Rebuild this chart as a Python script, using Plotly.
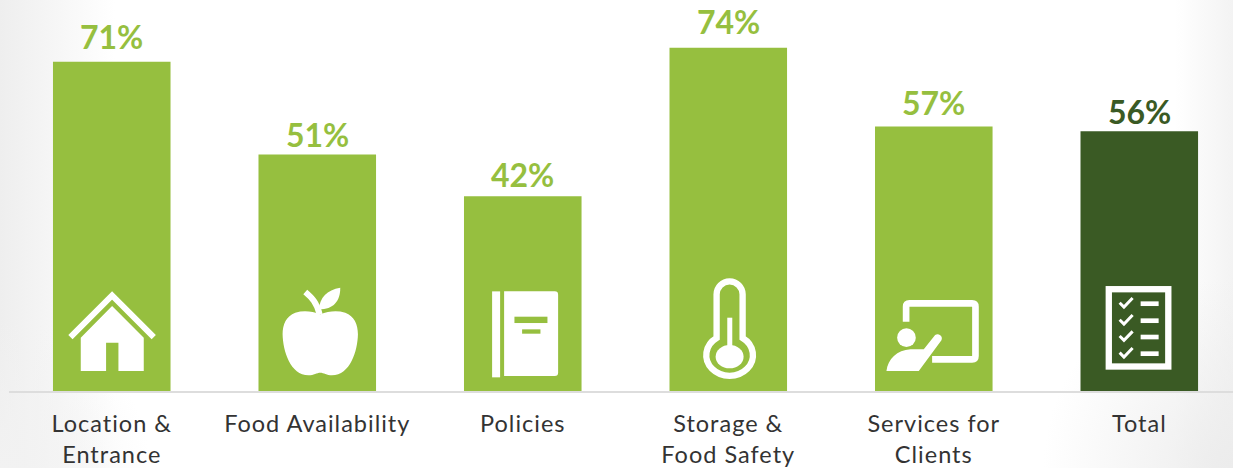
import base64
import plotly.graph_objects as go

categories = ["Location &<br>Entrance", "Food Availability", "Policies", "Storage &<br>Food Safety", "Services for<br>Clients", "Total"]
values = [71, 51, 42, 74, 57, 56]
bar_colors = ["#96BF3F"] * 5 + ["#3A5A24"]
label_colors = ["#96BF3F"] * 5 + ["#3A5A24"]
label_gaps = [25, 20, 22, 26, 24, 20]
FONT = "Lato"

G = "#96BF3F"
def svg_uri(body, w=352, h=365):
    s = f'<svg xmlns="http://www.w3.org/2000/svg" width="{w}" height="{h}" viewBox="0 0 {w} {h}">{body}</svg>'
    return "data:image/svg+xml;base64," + base64.b64encode(s.encode()).decode()

house = '''<g transform="translate(-39,0)"><polyline points="91,203 216,78 341,203" fill="none" stroke="white" stroke-width="18"/>
<polygon fill="white" points="122,205 216,110 311,205 311,305 235,305 235,220 198,220 198,305 122,305"/></g>'''
apple = '''<g transform="translate(-655,0)" fill="white"><path d="M840 135 C815 125 790 122 765 130 C738 140 727 165 727 195 C728 245 750 318 805 318 C820 318 830 310 840 310 C850 310 860 318 875 318 C930 318 952 245 953 195 C953 165 942 140 915 130 C890 122 865 125 840 135 Z"/>
<path d="M795 68 C815 85 830 100 838 135" fill="none" stroke="white" stroke-width="18"/>
<path d="M836 120 C838 85 860 62 900 55 C900 95 880 120 836 120 Z"/></g>'''
book = f'''<g transform="translate(-12,0)"><rect x="96" y="66" width="24" height="258" fill="white"/>
<path d="M132 66 H284 Q294 66 294 76 V310 Q294 320 284 320 H132 Z" fill="white"/>
<rect x="163" y="142" width="99" height="19" fill="{G}"/><rect x="186" y="180" width="55" height="13" fill="{G}"/></g>'''
thermo = '''<g transform="translate(-628,0)"><path d="M769 206 V75 A39 39 0 0 1 847 75 V206 A70 62 0 1 1 769 206 Z" fill="none" stroke="white" stroke-width="19"/>
<ellipse cx="808" cy="262" rx="42" ry="35" fill="white"/><rect x="801" y="145" width="15" height="100" fill="white"/></g>'''
board = '''<g transform="translate(-44,0)"><path d="M137 157 V112 Q137 102 147 102 H335 Q345 102 345 112 V260 Q345 270 335 270 H215" fill="none" stroke="white" stroke-width="20"/>
<circle cx="138" cy="205" r="28" fill="white"/>
<path d="M78 305 C82 270 110 242 150 240 L190 240 L224 197 A13 13 0 0 1 243 213 L175 305 Z" fill="white"/></g>'''
checks = "".join(f'<polyline points="{777},{y} {790},{y+13} {816},{y-14}" fill="none" stroke="white" stroke-width="9"/><rect x="840" y="{y-4}" width="54" height="14" fill="white"/>' for y in (100, 151, 200, 250))
lst = f'<g transform="translate(-660,0)"><rect x="744.5" y="59.5" width="178.5" height="232" fill="none" stroke="white" stroke-width="19"/>{checks}</g>'
icons = [house, apple, book, thermo, board, lst]

bg = '''<defs><linearGradient id="a" gradientUnits="userSpaceOnUse" x1="0" y1="0" x2="115" y2="0"><stop offset="0" stop-color="#eeeeee"/><stop offset="1" stop-color="#eeeeee" stop-opacity="0"/></linearGradient>
<linearGradient id="r" gradientUnits="userSpaceOnUse" x1="1233" y1="0" x2="1175" y2="0"><stop offset="0" stop-color="#f3f3f3"/><stop offset="1" stop-color="#f3f3f3" stop-opacity="0"/></linearGradient>
<radialGradient id="b" gradientUnits="userSpaceOnUse" cx="1233" cy="468" r="190"><stop offset="0" stop-color="#ececec"/><stop offset="1" stop-color="#ececec" stop-opacity="0"/></radialGradient>
<radialGradient id="c" gradientUnits="userSpaceOnUse" cx="0" cy="468" r="150"><stop offset="0" stop-color="#f2f2f2"/><stop offset="1" stop-color="#f2f2f2" stop-opacity="0"/></radialGradient></defs>
<rect width="1233" height="468" fill="white"/><rect width="1233" height="468" fill="url(#a)"/><rect width="1233" height="468" fill="url(#r)"/><rect width="1233" height="468" fill="url(#c)"/><rect width="1233" height="468" fill="url(#b)"/>'''

fig = go.Figure(go.Bar(
    x=categories, y=values, width=0.572,
    marker=dict(color=bar_colors, line_width=0),
    cliponaxis=False, hoverinfo="skip",
))
for c, v, col, gap in zip(categories, values, label_colors, label_gaps):
    fig.add_annotation(x=c, y=v, text=f"<b>{v}%</b>", showarrow=False, yanchor="middle", yshift=gap,
                       font=dict(family=FONT, size=32, color=col))

images = [dict(source=svg_uri(bg, 1233, 468), xref="paper", yref="paper", x=-9 / 1224, y=-77 / 391, sizex=1233 / 1224, sizey=468 / 391,
               xanchor="left", yanchor="bottom", sizing="stretch", layer="below")]
ICON_H = 365 / 3 / 4.64
for i, ic in enumerate(icons):
    images.append(dict(source=svg_uri(ic), xref="x", yref="y", x=i - 0.2855, y=ICON_H, sizex=0.571, sizey=ICON_H,
                       xanchor="left", yanchor="top", sizing="stretch", layer="above"))

fig.update_layout(
    width=1233, height=468, autosize=False,
    margin=dict(l=9, r=0, t=0, b=77, pad=0),
    paper_bgcolor="white", plot_bgcolor="rgba(0,0,0,0)",
    showlegend=False, images=images,
    font=dict(family=FONT, color="#333333"),
    xaxis=dict(type="category", range=[-0.5, 5.456], automargin=False, showgrid=False, showline=True, linecolor="#DDDDDD", linewidth=2,
               ticks="outside", ticklen=11, tickcolor="rgba(0,0,0,0)", tickfont=dict(family=FONT, size=23.5, color="#333333"), tickangle=0),
    yaxis=dict(range=[0, 84.3], visible=False, automargin=False),
)
post = """
document.documentElement.style.overflow='hidden';
document.body.style.margin='0';
var st=document.createElement('style');st.textContent='.xtick text{letter-spacing:1px}';document.head.appendChild(st);
window.dispatchEvent(new Event('resize'));
"""
fig.write_html("out.html", config=dict(displayModeBar=False), post_script=post)
